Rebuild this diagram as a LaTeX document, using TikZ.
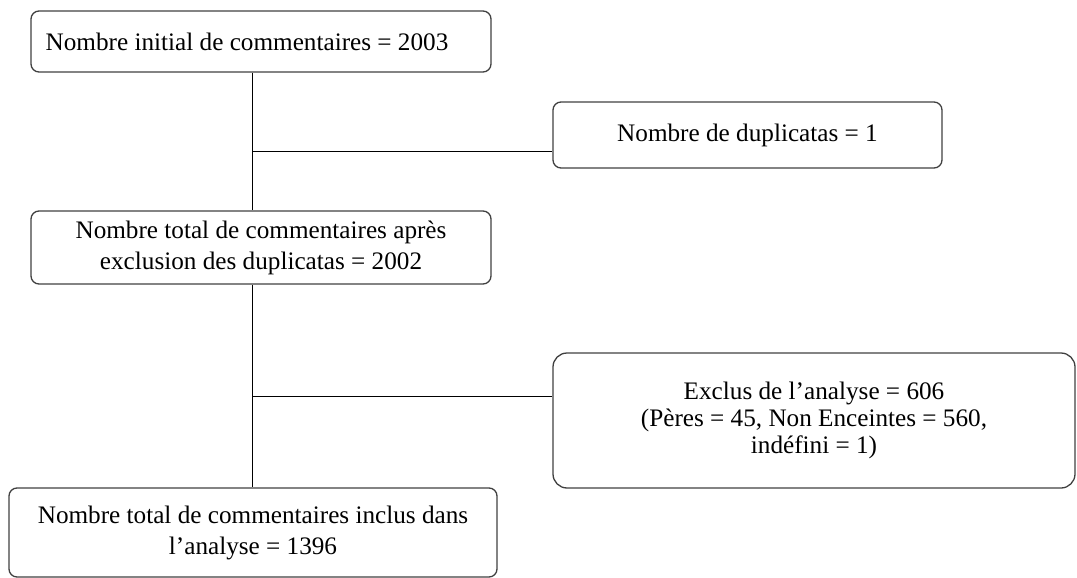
\documentclass[tikz,border=0pt]{standalone}
\usepackage{fontspec}
\setmainfont{Liberation Serif}
\usetikzlibrary{positioning}

\begin{document}
\begin{tikzpicture}
[x=0.5pt, y=-0.5pt, black, line width=0.5pt,
flowbox/.style = {rectangle, rounded corners=4pt, draw=black!75, line width=0.65pt, align=center,
                  font=\fontsize{12.6}{15.5}\selectfont, inner sep=0pt},
sidebox/.style = {flowbox, rounded corners=7pt, font=\fontsize{12.6}{13.5}\selectfont}]
\useasboundingbox (0,0) rectangle (1077,578);
\node[flowbox, minimum width=230pt, minimum height=30.5pt]
  (initial) at (261,41.5) {Nombre initial de commentaires = 2003\hspace*{14pt}};
\node[flowbox, minimum width=194.5pt, minimum height=33pt]
  (duplicatas) at (747.5,135) {Nombre de duplicatas = 1};
\node[flowbox, minimum width=230pt, minimum height=36.5pt]
  (apres) at (261,247.5) {Nombre total de commentaires après\\exclusion des duplicatas = 2002};
\node[sidebox, minimum width=261pt, minimum height=67.5pt]
  (exclus) at (814,420.5) {Exclus de l’analyse = 606\\(Pères = 45, Non Enceintes = 560,\\indéfini = 1)};
\node[flowbox, minimum width=244pt, minimum height=44.5pt]
  (inclus) at (253,532.5) {Nombre total de commentaires inclus dans\\l’analyse = 1396};
% junctions on the trunk
\coordinate (j1) at (252,151);
\coordinate (j2) at (252,396);
\draw (j1 |- initial.south) -- (j1 |- apres.north);
\draw (j1) -- (j1 -| duplicatas.west);
\draw (j2 |- apres.south) -- (j2 |- inclus.north);
\draw (j2) -- (j2 -| exclus.west);
\end{tikzpicture}
\end{document}
